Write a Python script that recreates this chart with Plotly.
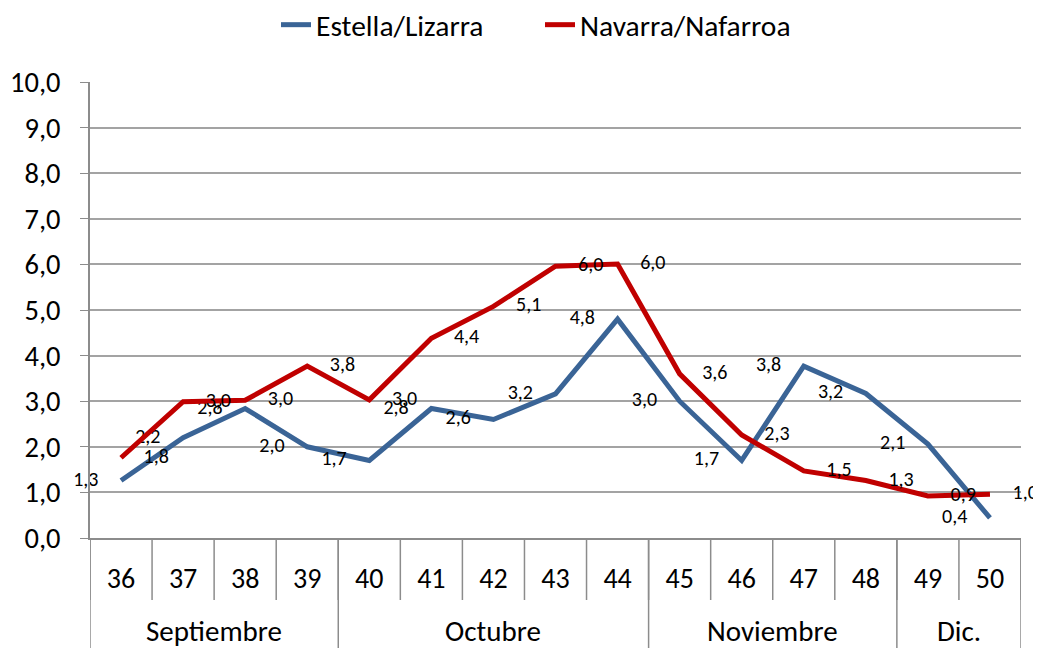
import plotly.graph_objects as go

weeks = ["36", "37", "38", "39", "40", "41", "42", "43", "44", "45", "46", "47", "48", "49", "50"]
months = ["Septiembre"] * 4 + ["Octubre"] * 5 + ["Noviembre"] * 4 + ["Dic."] * 2
estella = [1.26, 2.2, 2.84, 2.0, 1.7, 2.84, 2.6, 3.16, 4.8, 3.0, 1.7, 3.77, 3.17, 2.06, 0.44]
navarra = [1.76, 2.99, 3.02, 3.77, 3.03, 4.38, 5.08, 5.96, 6.01, 3.6, 2.26, 1.47, 1.26, 0.92, 0.96]

FONT = "Carlito, Calibri, Lato, sans-serif"
GRID = "#a3a3a3"
AXIS = "#8c8c8c"
NB = "\u00a0"

def fmt(v):
    return f"{v:.1f}".replace(".", ",")

fig = go.Figure()
fig.add_trace(go.Scatter(
    x=weeks, y=estella, name="Estella/Lizarra",
    mode="lines+text", line=dict(color="#3A6496", width=5),
    text=[fmt(v) + NB * 5 for v in estella], textposition="middle left",
    textfont=dict(size=20, color="#000000", family=FONT),
    cliponaxis=False,
))
fig.add_trace(go.Scatter(
    x=weeks, y=navarra, name="Navarra/Nafarroa",
    mode="lines+text", line=dict(color="#C00000", width=5),
    text=[NB * 5 + fmt(v) for v in navarra], textposition="middle right",
    textfont=dict(size=20, color="#000000", family=FONT),
    cliponaxis=False,
))

# page body has an 8px margin, so the figure is 8px smaller and margins shifted
W, HT = 1033, 640
H = 456.0
ybot = -110.0 / H
yweek = -62.0 / H

shapes = []
for i in range(len(weeks) + 1):
    shapes.append(dict(type="line", xref="x", yref="paper", x0=i - 0.5, x1=i - 0.5,
                       y0=0, y1=yweek, line=dict(color=AXIS, width=1.5), layer="below"))
annotations = []
start = 0
groups = []
for i in range(1, len(months) + 1):
    if i == len(months) or months[i] != months[start]:
        groups.append((months[start], start, i - 1))
        start = i
bounds = sorted(set([g[1] - 0.5 for g in groups] + [g[2] + 0.5 for g in groups]))
for b in bounds:
    shapes.append(dict(type="line", xref="x", yref="paper", x0=b, x1=b,
                       y0=0, y1=ybot, line=dict(color=AXIS, width=1.5), layer="below"))
for name, a, b in groups:
    annotations.append(dict(x=(a + b) / 2.0, y=-93.0 / H, xref="x", yref="paper",
                            text=name, showarrow=False, xanchor="center", yanchor="middle",
                            font=dict(size=29, family=FONT, color="#000000")))

fig.update_layout(
    width=W, height=HT,
    margin=dict(l=82, r=20, t=74, b=110, autoexpand=False),
    paper_bgcolor="white", plot_bgcolor="white",
    separators=",.",
    font=dict(family=FONT, size=20, color="#000000"),
    showlegend=True,
    legend=dict(orientation="h", x=268.0 / W, xanchor="left", xref="container",
                y=1 + 57.0 / H, yanchor="middle", yref="paper",
                font=dict(size=29.5, family=FONT), entrywidth=219, entrywidthmode="pixels",
                tracegroupgap=0),
    xaxis=dict(
        type="category", showgrid=False, range=[-0.5, len(weeks) - 0.5],
        showline=True, linecolor=AXIS, linewidth=1.5,
        ticks="", ticklabelstandoff=15,
        tickfont=dict(size=28, family=FONT),
    ),
    yaxis=dict(
        range=[0, 10], dtick=1, tickformat=".1f",
        showgrid=True, gridcolor=GRID, gridwidth=1.5,
        showline=True, linecolor=AXIS, linewidth=1.5,
        ticks="outside", ticklen=8, tickcolor=AXIS,
        ticklabelstandoff=14,
        tickfont=dict(size=28.5, family=FONT),
        zeroline=False,
    ),
    shapes=shapes,
    annotations=annotations,
)

fig.write_html("out.html")
